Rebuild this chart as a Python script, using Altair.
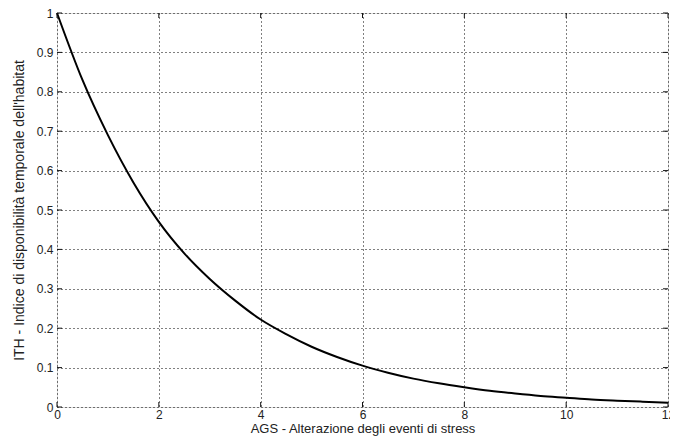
import altair as alt
import pandas as pd

# Curve values
ags = [0, 0.5, 1, 1.5, 2, 2.5, 3, 3.5, 4, 4.5, 5, 5.5, 6, 6.5, 7, 7.5, 8, 8.5, 9, 9.5, 10, 10.5, 11, 11.5, 12]
ith = [1.0, 0.83, 0.69, 0.57, 0.47, 0.39, 0.325, 0.27, 0.222, 0.185, 0.153, 0.127, 0.105,
       0.087, 0.072, 0.060, 0.050, 0.041, 0.034, 0.028, 0.0235, 0.019, 0.016, 0.0135, 0.011]

x_ticks = [0, 2, 4, 6, 8, 10, 12]
y_ticks = [0, 0.1, 0.2, 0.3, 0.4, 0.5, 0.6, 0.7, 0.8, 0.9, 1.0]

x_title = "AGS - Alterazione degli eventi di stress"
y_title = "ITH - Indice di disponibilità temporale dell'habitat"

W, H = 611, 394
TICK = 5
FONT = "Liberation Sans"

df = pd.DataFrame({"x": ags, "y": ith})
xt = pd.DataFrame({"x": x_ticks})
yt = pd.DataFrame({"y": y_ticks})

xs = alt.Scale(domain=[0, 12], nice=False, zero=False)
ys = alt.Scale(domain=[0, 1], nice=False, zero=False)

x_axis = alt.Axis(
    values=x_ticks, title=x_title, format="d", ticks=False, domain=False,
    labelOverlap=False, labelFlush=False,
    grid=True, gridDash=[1, 3], gridColor="#000000", gridOpacity=1, gridWidth=1,
    labelFont=FONT, labelFontSize=12, labelColor="#222222", labelPadding=2,
    titleFont=FONT, titleFontSize=13, titleFontWeight="normal", titleColor="#222222",
    titlePadding=2)
y_axis = alt.Axis(
    values=y_ticks, title=y_title, format=".1~f", ticks=False, domain=False,
    labelOverlap=False, labelFlush=False,
    grid=True, gridDash=[1, 3], gridColor="#000000", gridOpacity=1, gridWidth=1,
    labelFont=FONT, labelFontSize=12, labelColor="#222222", labelPadding=4,
    titleFont=FONT, titleFontSize=14, titleFontWeight="normal", titleColor="#222222",
    titlePadding=10)

line = alt.Chart(df).mark_line(color="#000000", strokeWidth=2, interpolate="monotone").encode(
    x=alt.X("x:Q", scale=xs, axis=x_axis),
    y=alt.Y("y:Q", scale=ys, axis=y_axis),
)

tick_color = "#111111"
xb = alt.Chart(xt).mark_rule(color=tick_color, strokeWidth=1).encode(
    x=alt.X("x:Q", scale=xs, axis=x_axis), y=alt.value(H), y2=alt.value(H - TICK))
xtp = alt.Chart(xt).mark_rule(color=tick_color, strokeWidth=1).encode(
    x=alt.X("x:Q", scale=xs, axis=x_axis), y=alt.value(0), y2=alt.value(TICK))
yl = alt.Chart(yt).mark_rule(color=tick_color, strokeWidth=1).encode(
    y=alt.Y("y:Q", scale=ys, axis=y_axis), x=alt.value(0), x2=alt.value(TICK))
yr = alt.Chart(yt).mark_rule(color=tick_color, strokeWidth=1).encode(
    y=alt.Y("y:Q", scale=ys, axis=y_axis), x=alt.value(W), x2=alt.value(W - TICK))

chart = alt.layer(line, xb, xtp, yl, yr).properties(
    width=W, height=H,
    autosize=alt.AutoSizeParams(type="none"),
    padding={"left": 49, "top": 5, "right": 2, "bottom": 30},
).configure_view(stroke="#111111", strokeWidth=1).configure(background="white")

chart.save("out.html", embed_options={"renderer": "svg", "actions": False})
